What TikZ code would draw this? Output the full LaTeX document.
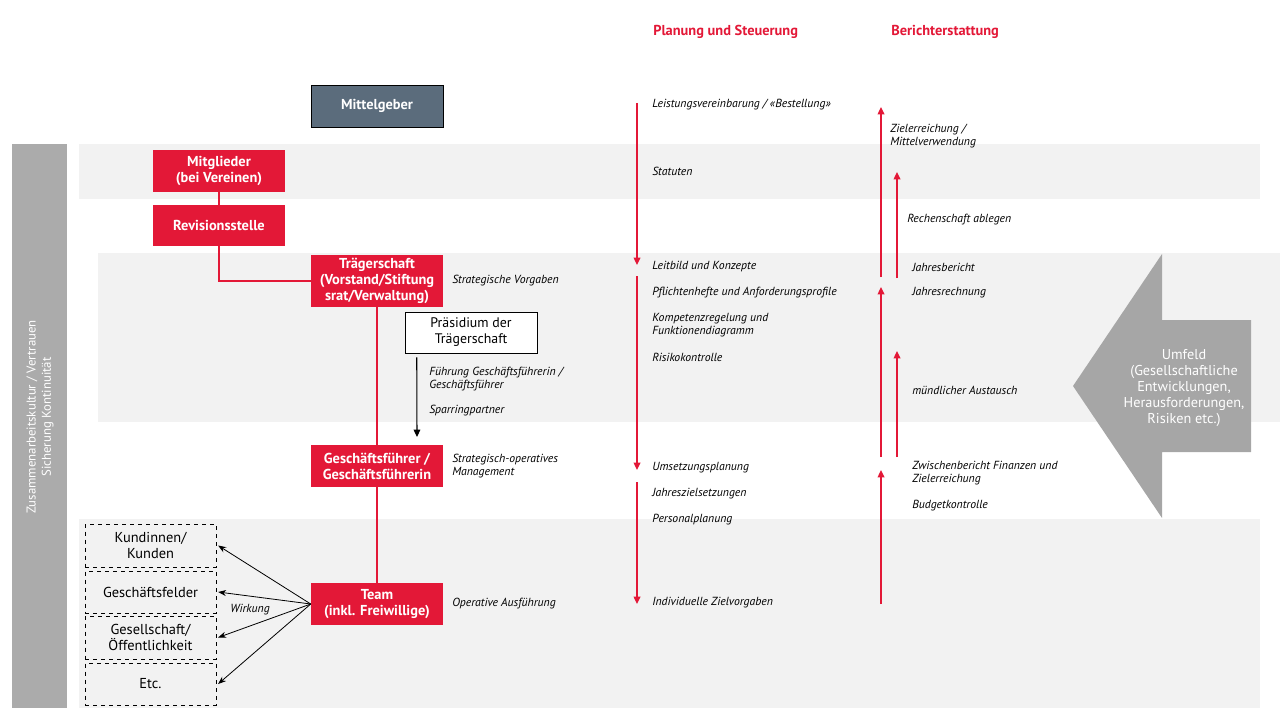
\documentclass[tikz,border=0pt]{standalone}
\usepackage{fontspec}
\setmainfont{PT Sans}
\usetikzlibrary{arrows.meta,positioning,calc}
\definecolor{rot}{RGB}{227,24,55}
\definecolor{schiefer}{RGB}{91,108,124}
\definecolor{band}{RGB}{242,242,242}
\definecolor{balken}{RGB}{171,171,171}
\definecolor{umfeldgrau}{RGB}{166,166,166}

\begin{document}
\begin{tikzpicture}[>=Stealth,x=0.75pt,y=-0.75pt]
\tikzstyle{rb}=[fill=rot,text=white,font=\fontsize{10.8}{11.9}\selectfont\bfseries,minimum width=99pt,minimum height=31.5pt,inner sep=1pt,align=center]
\tikzstyle{lab}=[anchor=west,font=\fontsize{8.8}{9.7}\selectfont\itshape,align=left,inner sep=0pt]
\tikzstyle{db}=[draw,dashed,minimum width=98pt,minimum height=31.5pt,font=\fontsize{10.8}{12.6}\selectfont,align=center,inner sep=1pt]
\tikzstyle{rl}=[rot,line width=1pt,-{Triangle[width=5pt,length=5.5pt]}]
\tikzstyle{kopf}=[text=rot,font=\fontsize{10.8}{12}\selectfont\bfseries,anchor=west,inner sep=0pt]
\useasboundingbox (0,0) rectangle (1280,720);
% Hintergrund
\fill[band] (79,144) rectangle (1260,199);
\fill[band] (98,253) rectangle (1280,422);
\fill[band] (79,519) rectangle (1260,708);
\fill[balken] (12,144) rectangle (67,708);
\node[rotate=90,text=white,font=\fontsize{9.6}{11.5}\selectfont,align=center] (kultur) at (40,417) {Zusammenarbeitskultur / Vertrauen\\Sicherung Kontinuität};
\fill[umfeldgrau] (1073,386) -- (1162,254) -- (1162,320) -- (1251,320) -- (1251,452) -- (1162,452) -- (1162,518) -- cycle;
\node[text=white,font=\fontsize{10.7}{12}\selectfont,align=center] (umfeld) at (1184,388) {Umfeld\\(Gesellschaftliche\\Entwicklungen,\\Herausforderungen,\\Risiken etc.)};
% Kopfzeilen
\node[kopf] (planung) at (653,32) {Planung und Steuerung};
\node[kopf] (bericht) at (891,32) {Berichterstattung};
% Organe
\node[rb,fill=schiefer,draw=black] (mittelgeber) at (377,106) {Mittelgeber};
\node[rb] (mitglieder) at (219,171) {Mitglieder\\(bei Vereinen)};
\node[rb,minimum height=30.75pt] (revision) at (219,225.5) {Revisionsstelle};
\node[rb,minimum height=39pt] (traeger) at (377,281) {Trägerschaft\\(Vorstand/Stiftung\\srat/Verwaltung)};
\node[draw,fill=white,minimum width=99pt,minimum height=30.75pt,font=\fontsize{10.4}{12}\selectfont,align=center,inner sep=1pt] (praesidium) at (471,332.5) {Präsidium der\\Trägerschaft};
\node[rb] (gf) at (377,466) {Geschäftsführer /\\Geschäftsführerin};
\node[rb] (team) at (377,604) {Team\\(inkl. Freiwillige)};
\draw[rot,line width=0.8pt] (mitglieder) -- (revision);
\draw[rot,line width=0.8pt] (revision.south) |- (traeger.west);
\draw[rot,line width=0.8pt] (traeger.south) -- (gf.north);
\draw[rot,line width=0.8pt] (gf.south) -- (team.north);
\coordinate (praesEnd) at (417,437);
\draw[line width=0.8pt,-{Triangle[width=5pt,length=5.5pt]}] ($(praesidium.south west)+(12,4)$) -- (praesEnd);
\node[lab] (fuehrung) at (429,379) {Führung Geschäftsführerin /\\Geschäftsführer};
\node[lab] (sparring) at (429,411) {Sparringpartner};
\node[lab] (vorgaben) at (452,281) {Strategische Vorgaben};
\node[lab] (strategop) at (452,466.5) {Strategisch-operatives\\Management};
\node[lab] (operativ) at (452,604) {Operative Ausführung};
% Wirkung
\node[db,minimum height=32.25pt] (kunden) at (150.5,545.5) {Kundinnen/\\Kunden};
\node[db] (felder) at (150.5,592) {Geschäftsfelder};
\node[db,minimum height=32.25pt] (oeff) at (150.5,637.5) {Gesellschaft/\\Öffentlichkeit};
\node[db] (etc) at (150.5,684) {Etc.};
\foreach \z in {kunden,felder,oeff,etc} \draw[line width=0.6pt,-{Stealth[length=6pt,width=4.5pt]}] (team.west) -- ([xshift=1.5pt]\z.east);
\node[lab,anchor=center] (wirkung) at (250,610) {Wirkung};
% Planung und Steuerung
\foreach \n/\ya/\yb in {1/103/265,2/276/470,3/482/604} {
  \coordinate (plan\n a) at (637,\ya);
  \coordinate (plan\n b) at (637,\yb);
  \draw[rl] (plan\n a) -- (plan\n b);
}
\node[lab] (leistung) at (652,105) {Leistungsvereinbarung / «Bestellung»};
\node[lab] (statuten) at (652,171) {Statuten};
\node[lab] (leitbild) at (652,267) {Leitbild und Konzepte};
\node[lab] (pflichten) at (652,293) {Pflichtenhefte und Anforderungsprofile};
\node[lab] (kompetenz) at (652,325) {Kompetenzregelung und\\Funktionendiagramm};
\node[lab] (risiko) at (652,357) {Risikokontrolle};
\node[lab] (umsetzung) at (652,468) {Umsetzungsplanung};
\node[lab] (jahresziele) at (652,494) {Jahreszielsetzungen};
\node[lab] (personal) at (652,520) {Personalplanung};
\node[lab] (individuell) at (652,603) {Individuelle Zielvorgaben};
% Berichterstattung
\foreach \n/\x/\ya/\yb in {1/881/277/107,2/897/278/172,3/881/457/287,4/897/457/351,5/881/604/470} {
  \coordinate (ber\n a) at (\x,\ya);
  \coordinate (ber\n b) at (\x,\yb);
  \draw[rl] (ber\n a) -- (ber\n b);
}
\node[lab] (zielerr) at (890,136.5) {Zielerreichung /\\Mittelverwendung};
\node[lab] (rechenschaft) at (907,220) {Rechenschaft ablegen};
\node[lab] (jahresbericht) at (912,267) {Jahresbericht};
\node[lab] (jahresrechnung) at (912,293) {Jahresrechnung};
\node[lab] (muendlich) at (912,390) {mündlicher Austausch};
\node[lab] (zwischen) at (912,473.5) {Zwischenbericht Finanzen und\\Zielerreichung};
\node[lab] (budget) at (912,506) {Budgetkontrolle};
\end{tikzpicture}
\end{document}
